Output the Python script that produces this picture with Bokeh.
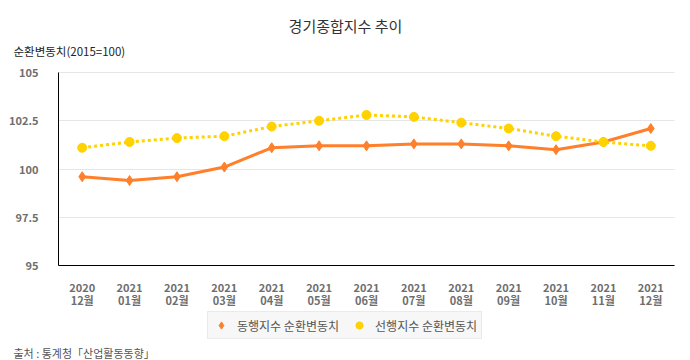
from bokeh.plotting import figure
from bokeh.models import ColumnDataSource, Range1d, FixedTicker, Label, Legend, LegendItem
from bokeh.embed import file_html
from bokeh.resources import INLINE

months = ["2020\n12월", "2021\n01월", "2021\n02월", "2021\n03월", "2021\n04월", "2021\n05월",
          "2021\n06월", "2021\n07월", "2021\n08월", "2021\n09월", "2021\n10월", "2021\n11월", "2021\n12월"]
coincident = [99.6, 99.4, 99.6, 100.1, 101.1, 101.2, 101.2, 101.3, 101.3, 101.2, 101.0, 101.4, 102.1]
leading = [101.1, 101.4, 101.6, 101.7, 102.2, 102.5, 102.8, 102.7, 102.4, 102.1, 101.7, 101.4, 101.2]
y_ticks = [95, 97.5, 100, 102.5, 105]
y_tick_labels = ["95", "97.5", "100", "102.5", "105"]

KR = "Noto Sans CJK KR"
ORANGE = "#ff7f2a"
YELLOW = "#ffd200"

W, H = 690, 360
PL, PR, PT, PB = 58, 674, 72, 265      # plot-area edges in pixels
n = len(months)
px_x = (PR - PL) / n
px_y = (PB - PT) / (y_ticks[-1] - y_ticks[0])
x_lo = -0.5 - PL / px_x
x_hi = x_lo + W / px_x
y_hi = y_ticks[-1] + PT / px_y
y_lo = y_hi - H / px_y

idx = list(range(n))
src = ColumnDataSource(dict(x=idx, c=coincident, l=leading))

p = figure(width=W, height=H, output_backend="svg", toolbar_location=None,
           x_range=Range1d(x_lo, x_hi), y_range=Range1d(y_lo, y_hi),
           min_border_left=0, min_border_right=0, min_border_top=0, min_border_bottom=0)
p.outline_line_color = None
p.background_fill_color = "white"
p.border_fill_color = "white"

p.xgrid.grid_line_color = None
p.ygrid.grid_line_color = "#e6e6e6"
p.ygrid.grid_line_width = 1
p.ygrid.cross_bounds = (-0.5, n - 0.5)

p.yaxis.ticker = FixedTicker(ticks=y_ticks)
p.yaxis.major_label_overrides = {t: s for t, s in zip(y_ticks, y_tick_labels)}
p.yaxis.bounds = (y_ticks[0], y_ticks[-1])
p.yaxis.fixed_location = -0.5
p.xaxis.ticker = FixedTicker(ticks=idx)
p.xaxis.major_label_overrides = {i: m for i, m in zip(idx, months)}
p.xaxis.bounds = (-0.5, n - 0.5)
p.xaxis.fixed_location = y_ticks[0]
for ax in (p.xaxis[0], p.yaxis[0]):
    ax.axis_line_color = "black"
    ax.axis_line_width = 1
    ax.major_tick_line_color = None
    ax.minor_tick_line_color = None
    ax.major_label_text_color = "#6e6e6e"
    ax.major_label_text_font = KR
    ax.major_label_text_font_size = "11px"
    ax.major_label_text_font_style = "bold"
p.yaxis.major_label_standoff = 14
p.xaxis.major_label_standoff = 7
p.xaxis.major_label_text_line_height = 0.85

lc = p.line("x", "c", source=src, line_color=ORANGE, line_width=3)
mc = p.scatter("x", "c", source=src, marker="diamond", size=10, fill_color=ORANGE, line_color=ORANGE)
ll = p.line("x", "l", source=src, line_color=YELLOW, line_width=3, line_dash="3 3")
ml = p.scatter("x", "l", source=src, marker="circle", size=9, fill_color=YELLOW, line_color=YELLOW)

# legend-only glyphs (small, outside the visible range)
lgc = p.scatter([0], [0], marker="diamond", size=8, fill_color=ORANGE, line_color=ORANGE)
lgl = p.scatter([0], [0], marker="circle", size=8, fill_color=YELLOW, line_color=YELLOW)

legend = Legend(items=[LegendItem(label="동행지수 순환변동치", renderers=[lgc]),
                       LegendItem(label="선행지수 순환변동치", renderers=[lgl])],
                orientation="horizontal", location=(207, H - 339),
                label_text_font=KR, label_text_font_size="12px", label_text_color="#555555",
                background_fill_color="#f7f7f7", background_fill_alpha=1,
                border_line_color="#dddddd", glyph_width=18, glyph_height=18,
                label_height=18, label_standoff=7, spacing=11, padding=4, margin=0)
p.add_layout(legend, "center")

p.add_layout(Label(x=345, y=H - 25, x_units="screen", y_units="screen", text="경기종합지수 추이",
                   text_font=KR, text_font_size="15px", text_color="#333333",
                   text_align="center", text_baseline="middle"))
p.add_layout(Label(x=13, y=H - 50, x_units="screen", y_units="screen", text="순환변동치(2015=100)",
                   text_font=KR, text_font_size="11.5px", text_color="#222222",
                   text_align="left", text_baseline="middle"))
p.add_layout(Label(x=13, y=H - 352, x_units="screen", y_units="screen", text="출처 : 통계청「산업활동동향」",
                   text_font=KR, text_font_size="11px", text_color="#555555",
                   text_align="left", text_baseline="middle"))

open("out.html", "w").write(file_html(p, INLINE))
